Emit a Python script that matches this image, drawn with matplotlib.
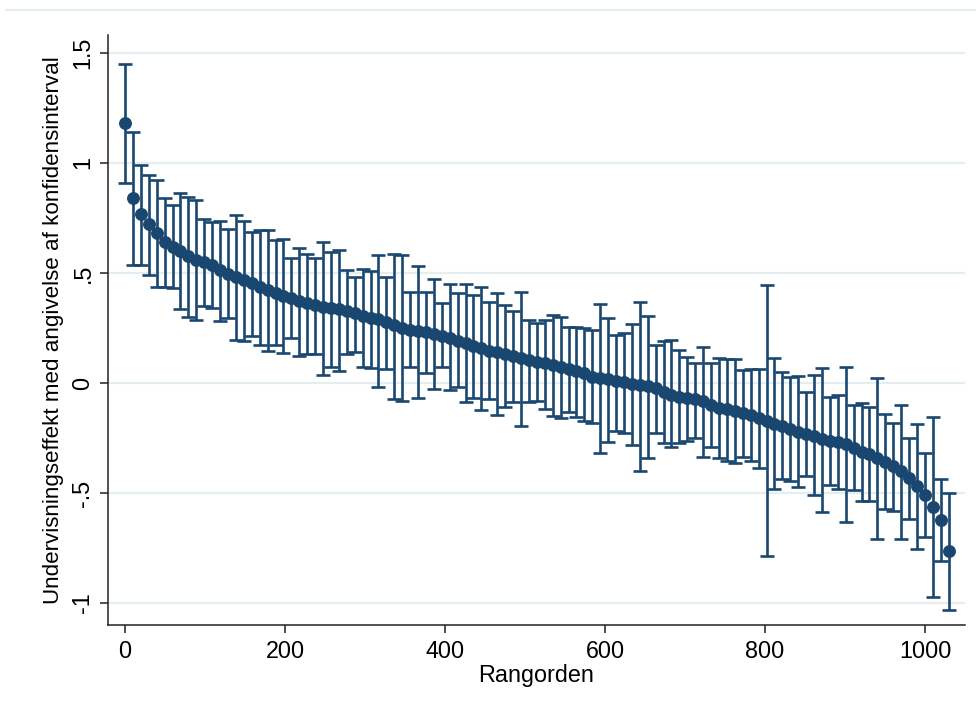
import numpy as np
import matplotlib
matplotlib.use('Agg')
import matplotlib.pyplot as plt
from matplotlib.lines import Line2D

plt.rcParams['font.family'] = ['Liberation Sans', 'DejaVu Sans']

# punktestimat og 95% konfidensgraenser, aflaest fra figuren
estimat = [1.18, 0.84, 0.768, 0.721, 0.680, 0.642, 0.620, 0.601, 0.577, 0.559,
           0.548, 0.536, 0.514, 0.494, 0.480, 0.468, 0.453, 0.438, 0.423, 0.410,
           0.395, 0.385, 0.374, 0.362, 0.353, 0.347, 0.339, 0.335, 0.329, 0.317,
           0.306, 0.297, 0.289, 0.279, 0.264, 0.249, 0.241, 0.236, 0.230, 0.223,
           0.214, 0.203, 0.191, 0.180, 0.168, 0.158, 0.147, 0.140, 0.130, 0.123,
           0.115, 0.105, 0.097, 0.092, 0.082, 0.074, 0.065, 0.056, 0.044, 0.029,
           0.021, 0.017, 0.009, 0.003, -0.005, -0.009, -0.014, -0.024, -0.039, -0.055,
           -0.062, -0.068, -0.074, -0.083, -0.098, -0.112, -0.120, -0.128, -0.137, -0.145,
           -0.161, -0.174, -0.185, -0.196, -0.210, -0.222, -0.230, -0.240, -0.255, -0.262,
           -0.267, -0.277, -0.294, -0.312, -0.325, -0.340, -0.358, -0.377, -0.402, -0.433,
           -0.470, -0.510, -0.563, -0.623, -0.763]
oevre = [1.449, 1.141, 0.993, 0.944, 0.923, 0.840, 0.809, 0.862, 0.847, 0.832,
         0.744, 0.733, 0.736, 0.698, 0.765, 0.738, 0.688, 0.695, 0.694, 0.650,
         0.653, 0.567, 0.612, 0.585, 0.567, 0.639, 0.594, 0.605, 0.514, 0.480,
         0.520, 0.511, 0.582, 0.482, 0.585, 0.582, 0.414, 0.533, 0.415, 0.471,
         0.362, 0.449, 0.408, 0.450, 0.400, 0.435, 0.370, 0.411, 0.355, 0.328,
         0.413, 0.288, 0.272, 0.286, 0.308, 0.298, 0.256, 0.256, 0.251, 0.241,
         0.359, 0.295, 0.220, 0.226, 0.268, 0.368, 0.305, 0.173, 0.192, 0.197,
         0.152, 0.117, 0.089, 0.162, 0.089, 0.112, 0.108, 0.108, 0.059, 0.062,
         0.062, 0.445, 0.115, 0.048, 0.026, 0.032, -0.041, 0.036, 0.070, -0.062,
         -0.055, 0.071, -0.100, -0.092, -0.111, 0.024, -0.142, -0.183, -0.100, -0.252,
         -0.186, -0.320, -0.156, -0.438, -0.502]
nedre = [0.909, 0.535, 0.535, 0.492, 0.435, 0.435, 0.430, 0.336, 0.301, 0.286,
         0.350, 0.342, 0.282, 0.294, 0.195, 0.190, 0.215, 0.173, 0.145, 0.173,
         0.135, 0.203, 0.124, 0.132, 0.132, 0.036, 0.074, 0.055, 0.130, 0.142,
         0.071, 0.067, -0.017, 0.064, -0.072, -0.080, 0.074, -0.067, 0.044, -0.029,
         0.074, -0.032, -0.017, -0.088, -0.067, -0.123, -0.074, -0.145, -0.108, -0.088,
         -0.197, -0.085, -0.080, -0.120, -0.148, -0.158, -0.130, -0.153, -0.173, -0.183,
         -0.317, -0.267, -0.218, -0.229, -0.282, -0.398, -0.342, -0.229, -0.274, -0.292,
         -0.274, -0.264, -0.248, -0.337, -0.290, -0.339, -0.355, -0.365, -0.335, -0.353,
         -0.385, -0.786, -0.482, -0.438, -0.444, -0.471, -0.423, -0.511, -0.588, -0.464,
         -0.483, -0.630, -0.486, -0.536, -0.536, -0.711, -0.574, -0.580, -0.709, -0.620,
         -0.755, -0.702, -0.974, -0.808, -1.032]
rangorden = np.arange(len(estimat)) * 9.9

x_ticks = [0, 200, 400, 600, 800, 1000]
y_ticks = [-1, -0.5, 0, 0.5, 1, 1.5]
y_labels = ['-1', '-.5', '0', '.5', '1', '1.5']

navy = '#1a476f'
grid_col = '#e4edf0'

fig = plt.figure(figsize=(9.76, 7.15), dpi=100)
ax = fig.add_axes([0.1107, 0.1259, 0.878, 0.8252])

est = np.array(estimat)
fejl = [est - np.array(nedre), np.array(oevre) - est]
ax.errorbar(rangorden, est, yerr=fejl, fmt='o', color=navy, ms=8.3,
            elinewidth=1.9, capsize=5.0, capthick=1.9, zorder=3)

ax.set_xlim(-21.25, 1050)
ax.set_ylim(-1.1, 1.582)
ax.set_xticks(x_ticks)
ax.set_yticks(y_ticks)
ax.set_yticklabels(y_labels, rotation=90, va='center')
ax.grid(axis='y', color=grid_col, lw=1.6)
ax.set_axisbelow(True)

for s in ['top', 'right']:
    ax.spines[s].set_visible(False)
for s in ['left', 'bottom']:
    ax.spines[s].set_color('#222222')
    ax.spines[s].set_linewidth(1.1)
ax.tick_params(direction='out', length=5.8, width=1.1, color='#222222', labelsize=16.8)
ax.tick_params(axis='x', pad=5)
ax.tick_params(axis='y', pad=4)

ax.set_xlabel('Rangorden', fontsize=16.8, labelpad=1)
ax.set_ylabel('Undervisningseffekt med angivelse af konfidensinterval', fontsize=16.1, labelpad=5)

# tynd linje i toppen af grafomraadet
fig.add_artist(Line2D([0.006, 1.0], [1 - 10 / 715, 1 - 10 / 715], transform=fig.transFigure,
                      color=grid_col, lw=1.6))

fig.savefig('out.png', dpi=100)
